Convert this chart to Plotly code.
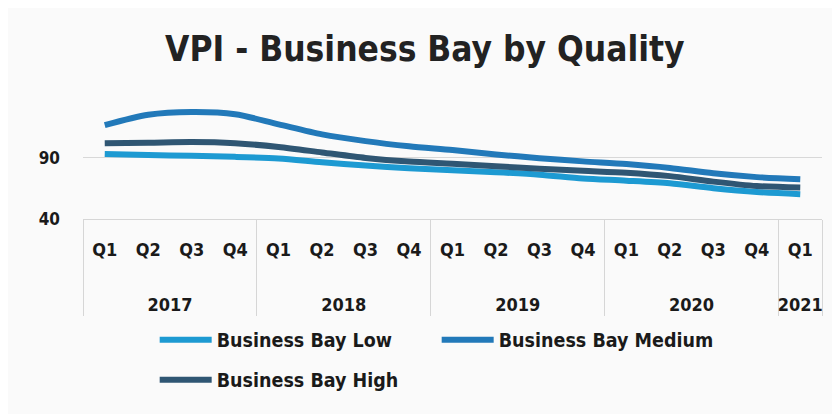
import plotly.graph_objects as go

years = ["2017"] * 4 + ["2018"] * 4 + ["2019"] * 4 + ["2020"] * 4 + ["2021"]
quarters = ["Q1", "Q2", "Q3", "Q4"] * 4 + ["Q1"]

low = [93.3, 92.5, 91.7, 90.9, 89.5, 86.4, 83.8, 81.5, 79.9, 78.3, 76.3, 73.2, 71.4, 69.2, 65.2, 62.1, 60.3]
medium = [116.8, 125.3, 127.6, 125.8, 117.5, 109.3, 103.8, 99.6, 96.5, 92.9, 89.8, 87.2, 85.0, 81.8, 77.4, 74.3, 72.5]
high = [102.0, 102.4, 103.0, 102.0, 99.0, 94.5, 90.0, 87.0, 85.2, 83.2, 81.2, 79.5, 77.9, 75.1, 70.6, 67.0, 65.8]

series = [
    ("Business Bay Low", low, "#1d9ad2", "legend"),
    ("Business Bay Medium", medium, "#2279b9", "legend"),
    ("Business Bay High", high, "#2f5673", "legend2"),
]

# year text pushed down to mimic the spacious two-level Excel axis
year_labels = ["<br><br>" + y for y in years]

fig = go.Figure()
for name, vals, col, lg in series:
    fig.add_trace(go.Scatter(
        x=[year_labels, quarters], y=vals, name=name, mode="lines", legend=lg,
        line=dict(color=col, width=6, shape="spline", smoothing=0.8),
    ))

font_fam = "DejaVu Sans Condensed, Roboto, sans-serif"
legfont = dict(family=font_fam, size=19.5, color="#1a1a1a", weight="bold")
fig.update_layout(
    width=832, height=406,
    paper_bgcolor="#fafafa", plot_bgcolor="#fafafa",
    margin=dict(l=75, r=18, t=95, b=195),
    title=dict(text="VPI - Business Bay by Quality", x=0.501, xanchor="center", y=0.9, yanchor="middle",
               font=dict(family=font_fam, size=35, color="#222222", weight="bold")),
    showlegend=True,
    legend=dict(orientation="h", x=0.097, xanchor="left", y=-1.043, yanchor="middle",
                entrywidth=215, entrywidthmode="pixels", itemwidth=52,
                font=legfont, bgcolor="rgba(0,0,0,0)"),
    legend2=dict(orientation="h", x=0.097, xanchor="left", y=-1.388, yanchor="middle",
                 itemwidth=52, font=legfont, bgcolor="rgba(0,0,0,0)"),
)
fig.update_xaxes(
    type="multicategory", range=[-0.5, 16.5], automargin=False,
    showgrid=False, showline=True, linecolor="#d6d6d6",
    showdividers=True, dividercolor="#d6d6d6", dividerwidth=1,
    tickfont=dict(family=font_fam, size=18, color="#1a1a1a", weight="bold"),
    ticklabelstandoff=14,
)
fig.update_yaxes(
    range=[40, 135], tickvals=[40, 90], automargin=False,
    showgrid=True, gridcolor="#d8d8d8",
    zeroline=False, showline=False,
    tickfont=dict(family=font_fam, size=17, color="#1a1a1a", weight="bold"),
    ticklabelstandoff=22,
)
fig.write_html("out.html")
